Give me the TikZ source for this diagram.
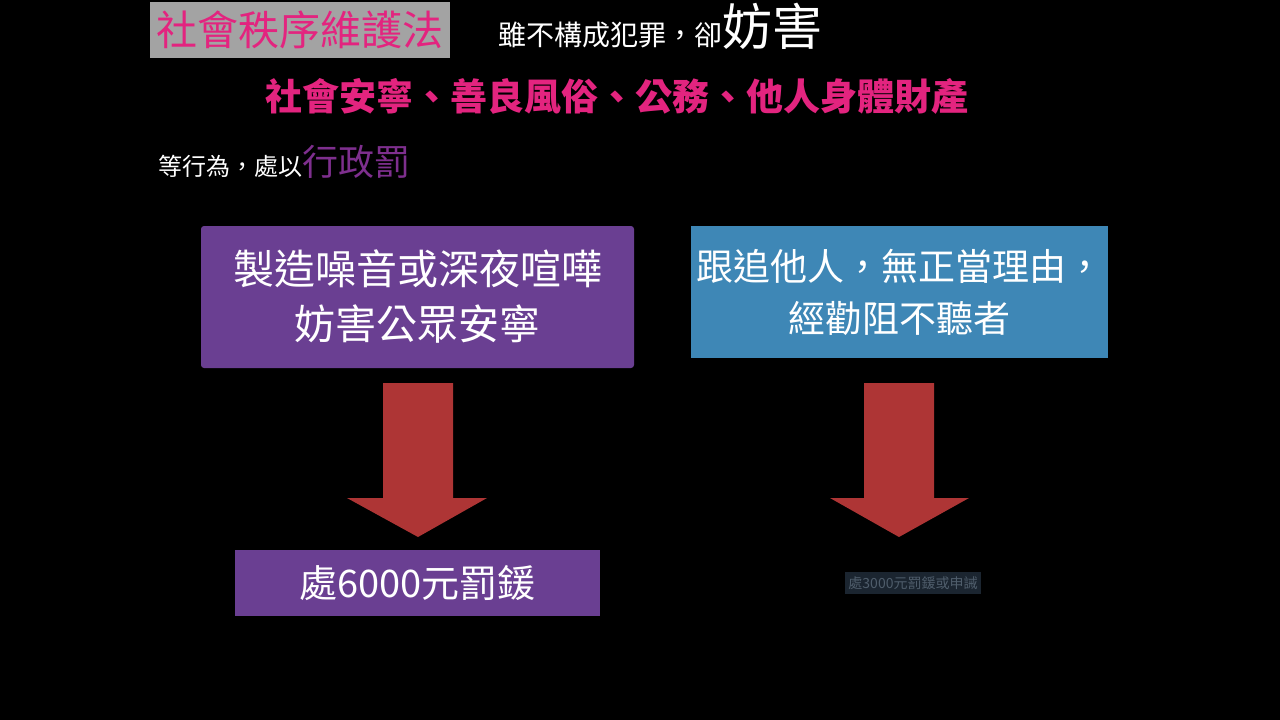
\documentclass[tikz,border=0pt]{standalone}
\usepackage{fontspec}
\setmainfont{Noto Sans CJK TC}
\definecolor{lawpink}{HTML}{E3247F}
\definecolor{lawgray}{HTML}{A3A3A3}
\definecolor{penpurple}{HTML}{7E2F8E}
\definecolor{boxpurple}{HTML}{6A3F92}
\definecolor{boxblue}{HTML}{3E87B6}
\definecolor{arrowred}{HTML}{AE3535}
\definecolor{fadebox}{HTML}{1B2530}
\definecolor{fadetext}{HTML}{4F5D6B}
\tikzset{
  caseboxstyle/.style={fill=#1,text=white,rounded corners=3pt,align=center,inner sep=0pt},
  blockarrow/.style={fill=arrowred},
}
\begin{document}
\begin{tikzpicture}[x=1pt,y=-1pt]
		% slide
		\fill[black] (0,0) rectangle (1280,720);
		\useasboundingbox (0,0) rectangle (1280,720);
		% heading
		\node[fill=lawgray,text=lawpink,minimum width=300,minimum height=56,inner sep=0pt,
		  font=\fontsize{41}{41}\selectfont] (law) at (300,30) {社會秩序維護法};
		\node[anchor=base west,text=white,inner sep=0pt,font=\fontsize{28}{28}\selectfont]
		  (notcrime) at (498,45) {雖不構成犯罪，卻};
		\node[anchor=base west,text=white,inner sep=0pt,font=\fontsize{50}{50}\selectfont]
		  (harm) at (notcrime.base east) {妨害};
		\node[text=lawpink,inner sep=0pt,font=\fontsize{37}{37}\selectfont\bfseries]
		  (scope) at (617,96) {社會安寧、善良風俗、公務、他人身體財產};
		\node[anchor=base west,text=white,inner sep=0pt,font=\fontsize{24}{24}\selectfont]
		  (act) at (158,175) {等行為，處以};
		\node[anchor=base west,text=penpurple,inner sep=0pt,font=\fontsize{36}{36}\selectfont]
		  (admin) at (act.base east) {行政罰};
		% cases
		\node[caseboxstyle=boxpurple,minimum width=433,minimum height=142,
		  font=\fontsize{41}{55}\selectfont] (noise) at (417.5,297) {製造噪音或深夜喧嘩\\妨害公眾安寧};
		\node[caseboxstyle=boxblue,rounded corners=0pt,minimum width=417,minimum height=132,
		  font=\fontsize{37}{52}\selectfont] (follow) at (899.5,292) {跟追他人，無正當理由，\\經勸阻不聽者};
		% arrows
		\coordinate (noisearrow) at (418,383);
		\coordinate (followarrow) at (899,383);
		\fill[blockarrow] (noisearrow) ++(-35,0) -- ++(70,0) -- ++(0,115) -- ++(34,0)
		  -- ++(-69,39) -- ++(-71,-39) -- ++(36,0) -- cycle;
		\fill[blockarrow] (followarrow) ++(-35,0) -- ++(70,0) -- ++(0,115) -- ++(35,0)
		  -- ++(-70,39) -- ++(-69,-39) -- ++(34,0) -- cycle;
		% fines
		\node[caseboxstyle=boxpurple,rounded corners=0pt,minimum width=365,minimum height=66,
		  font=\fontsize{38}{38}\selectfont] (finesix) at (417.5,583) {處6000元罰鍰};
		\node[fill=fadebox,text=fadetext,minimum width=136,minimum height=22,inner sep=0pt,
		  font=\fontsize{14}{14}\selectfont] (finethree) at (913,583) {處3000元罰鍰或申誡};
	\end{tikzpicture}
\end{document}
